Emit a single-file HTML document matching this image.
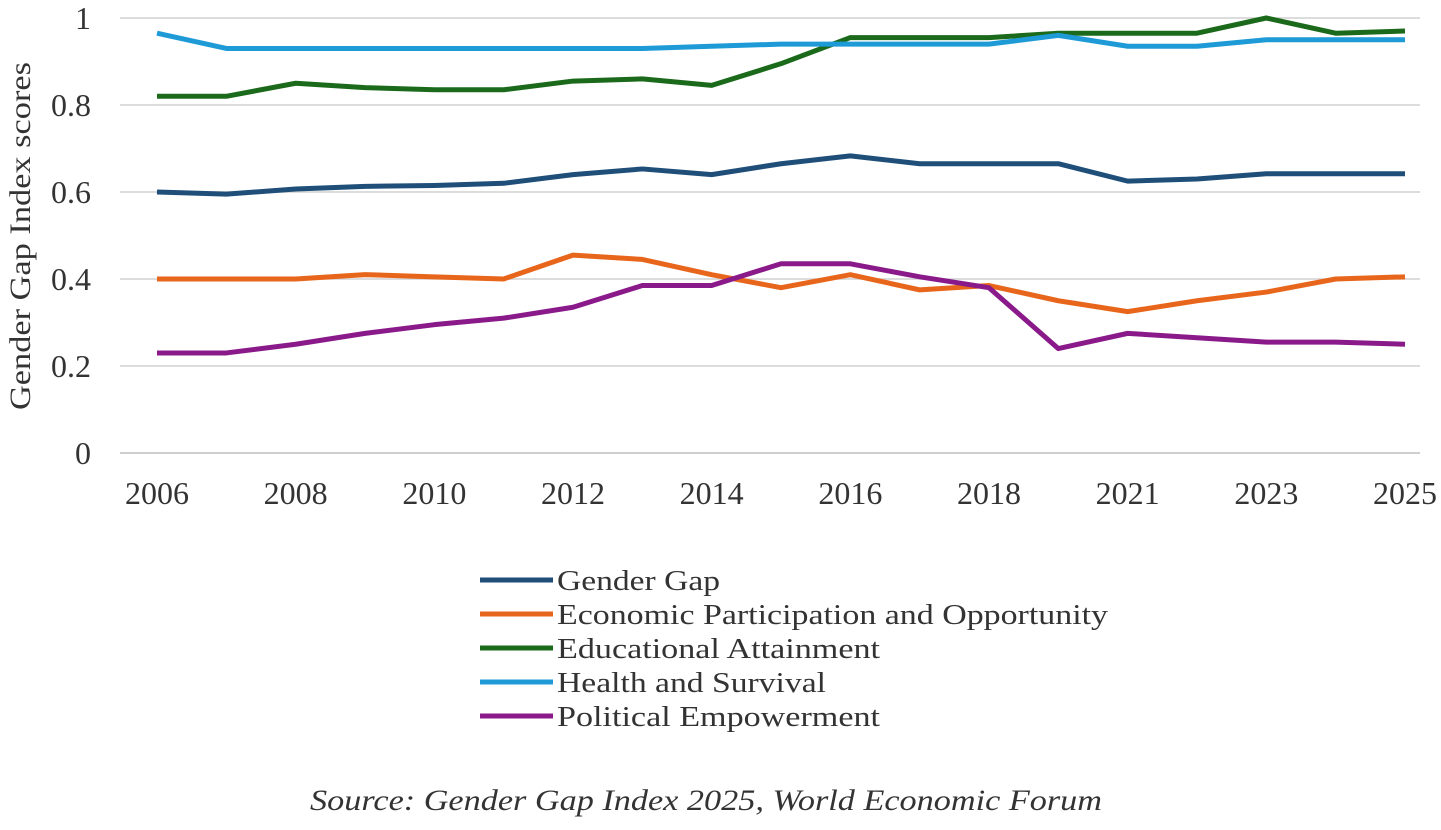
<!DOCTYPE html>
<html><head><meta charset="utf-8"><style>
body{margin:0;background:#fff;}
svg text{font-family:"Liberation Serif",serif;fill:#333;}
</style></head><body>
<svg width="1441" height="825" xmlns="http://www.w3.org/2000/svg">
<g id="grid"></g>
<g id="axes"></g>
<g id="series"></g>
<g id="legend"></g>
<text x="30" y="236" font-size="30" text-anchor="middle" textLength="348" lengthAdjust="spacingAndGlyphs" transform="rotate(-90 30 236)">Gender Gap Index scores</text>
<text x="310" y="810" font-size="30" font-style="italic" textLength="792" lengthAdjust="spacingAndGlyphs">Source: Gender Gap Index 2025, World Economic Forum</text>
</svg>
<script>
const categories=["2006","2007","2008","2009","2010","2011","2012","2013","2014","2015","2016","2017","2018","2019","2021","2022","2023","2024","2025"];
const xTickLabels=["2006","2008","2010","2012","2014","2016","2018","2021","2023","2025"];
const yTicks=[0,0.2,0.4,0.6,0.8,1];
const yTickLabels=["0","0.2","0.4","0.6","0.8","1"];
const seriesNames=["Gender Gap","Economic Participation and Opportunity","Educational Attainment","Health and Survival","Political Empowerment"];
const genderGap=[0.60,0.595,0.607,0.613,0.615,0.62,0.64,0.653,0.64,0.665,0.683,0.665,0.665,0.665,0.625,0.63,0.642,0.642,0.642];
const economic=[0.40,0.40,0.40,0.41,0.405,0.40,0.455,0.445,0.41,0.38,0.41,0.375,0.385,0.35,0.325,0.35,0.37,0.40,0.405];
const educational=[0.82,0.82,0.85,0.84,0.835,0.835,0.855,0.86,0.845,0.895,0.955,0.955,0.955,0.965,0.965,0.965,1.0,0.965,0.97];
const health=[0.965,0.93,0.93,0.93,0.93,0.93,0.93,0.93,0.935,0.94,0.94,0.94,0.94,0.96,0.935,0.935,0.95,0.95,0.95];
const political=[0.23,0.23,0.25,0.275,0.295,0.31,0.335,0.385,0.385,0.435,0.435,0.405,0.38,0.24,0.275,0.265,0.255,0.255,0.25];
const colors=["#1f4e79","#e8661b","#1b6a1b","#1e9ad6","#8a1a8a"];
const legendLengths=[163,551,323,269,323];
const NS="http://www.w3.org/2000/svg";
const x=i=>157+i*(1405-157)/(categories.length-1);
const y=v=>453-v*435;
function mk(tag,attrs,parent){const e=document.createElementNS(NS,tag);for(const k in attrs)e.setAttribute(k,attrs[k]);parent.appendChild(e);return e;}
const grid=document.getElementById('grid'),axes=document.getElementById('axes'),ser=document.getElementById('series'),leg=document.getElementById('legend');
yTicks.forEach((v,i)=>{
 const l=mk('line',{x1:120,x2:1420,y1:y(v),y2:y(v),stroke:i==0?'#bfbfbf':'#d0d0d0','stroke-width':1.5},grid);
 
 
 const t=mk('text',{x:91,y:y(v)+11,'font-size':32,'text-anchor':'end'},axes);
 t.textContent=yTickLabels[i];
 
 
});
xTickLabels.forEach(lab=>{
 const i=categories.indexOf(lab);
 const t=mk('text',{x:x(i),y:504,'font-size':32,'text-anchor':'middle'},axes);
 t.textContent=lab;
 
 
});
[genderGap,economic,educational,health,political].forEach((d,s)=>{
 const p=mk('polyline',{points:d.map((v,i)=>x(i)+','+y(v)).join(' '),fill:'none',stroke:colors[s],'stroke-width':5,'stroke-linejoin':'round'},ser);
 
 
 const ly=580+s*34;
 const ll=mk('line',{x1:480,x2:553,y1:ly,y2:ly,stroke:colors[s],'stroke-width':5},leg);
 
 
 const lt=mk('text',{x:557,y:ly+10,'font-size':29,textLength:legendLengths[s],lengthAdjust:'spacingAndGlyphs'},leg);
 lt.textContent=seriesNames[s];
 
 
});
</script>
</body></html>
